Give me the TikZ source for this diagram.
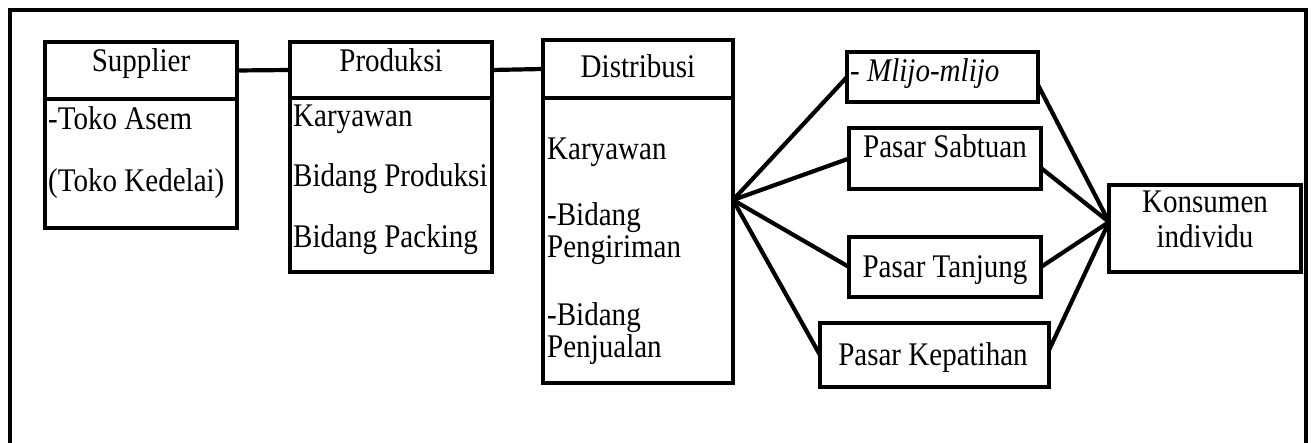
\documentclass[tikz,border=0pt]{standalone}
\usepackage{fontspec}
\setmainfont{Liberation Serif}[FakeStretch=0.88]
\usetikzlibrary{positioning}

\tikzset{
  box/.style={draw, line width=4.2pt, rectangle, inner sep=0pt, outer sep=0pt},
  txt/.style={inner sep=0pt, font=\fontsize{33}{36}\selectfont},
  link/.style={line width=4.2pt},
}

\begin{document}
\begin{tikzpicture}[x=1pt,y=-1pt]
  \useasboundingbox (0,0) rectangle (1313,443);
  \draw[line width=4.2pt] (10,443) -- (10,10) -- (1306,10) -- (1306,443);

  \node[name=supH, box, minimum width=192pt, minimum height=57pt] at (141,70.5) {};
  \node[name=supB, box, minimum width=192pt, minimum height=129pt, below=0pt of supH] {};
  \node[name=supT, txt, anchor=base] at (141,72) {Supplier};
  \node[name=supA, txt, anchor=base west] at (48,130) {-Toko Asem};
  \node[name=supK, txt, anchor=base west] at (48,192) {(Toko Kedelai)};

  \node[name=prodH, box, minimum width=202pt, minimum height=56pt] at (391,70) {};
  \node[name=prodB, box, minimum width=202pt, minimum height=174pt, below=0pt of prodH] {};
  \node[name=prodT, txt, anchor=base] at (391,72) {Produksi};
  \node[name=prodK, txt, anchor=base west] at (293,127) {Karyawan};
  \node[name=prodP, txt, anchor=base west] at (293,187) {Bidang Produksi};
  \node[name=prodC, txt, anchor=base west] at (293,248) {Bidang Packing};

  \node[name=distH, box, minimum width=190pt, minimum height=58pt] at (638,69) {};
  \node[name=distB, box, minimum width=190pt, minimum height=285pt, below=0pt of distH] {};
  \node[name=distT, txt, anchor=base] at (638,78) {Distribusi};
  \node[name=distK, txt, anchor=base west] at (547,160) {Karyawan};
  \node[name=distG, txt, anchor=base west, align=left] at (547,258) {-Bidang\\[-4pt]Pengiriman};
  \node[name=distJ, txt, anchor=base west, align=left] at (547,357) {-Bidang\\[-4pt]Penjualan};

  \node[name=mlijo, box, minimum width=191pt, minimum height=50pt] at (942.5,77) {};
  \node[name=mlijoT, txt, anchor=base west] at (850,82) {- \textit{Mlijo-mlijo}};
  \node[name=sabtuan, box, minimum width=192pt, minimum height=61pt] at (945,158.5) {};
  \node[name=sabtuanT, txt, anchor=base] at (945,158) {Pasar Sabtuan};
  \node[name=tanjung, box, minimum width=192pt, minimum height=60pt] at (945,267) {};
  \node[name=tanjungT, txt, anchor=base] at (945,278) {Pasar Tanjung};
  \node[name=kepatihan, box, minimum width=229pt, minimum height=64pt] at (934.5,355) {};
  \node[name=kepatihanT, txt, anchor=base] at (933,365) {Pasar Kepatihan};

  \node[name=kons, box, minimum width=192pt, minimum height=87pt] at (1205,228.5) {};
  \node[name=konsT, txt, anchor=base, align=center] at (1205,248) {Konsumen\\[-1pt]individu};

  \coordinate (fan) at ([yshift=40.5pt]distB.east);
  \coordinate (sink) at ([yshift=6.5pt]kons.west);

  \draw[link] (supH.east) -- (prodH.west);
  \draw[link] (prodH.east) -- (distH.west);

  \draw[link] (fan) -- (mlijo.west);
  \draw[link] (fan) -- (sabtuan.west);
  \draw[link] (fan) -- (tanjung.west);
  \draw[link] (fan) -- (kepatihan.west);

  \draw[link] ([yshift=-8pt]mlijo.east) -- (sink);
  \draw[link] ([yshift=-9.5pt]sabtuan.east) -- (sink);
  \draw[link] (tanjung.east) -- (sink);
  \draw[link] ([yshift=5pt]kepatihan.east) -- (sink);
\end{tikzpicture}
\end{document}
